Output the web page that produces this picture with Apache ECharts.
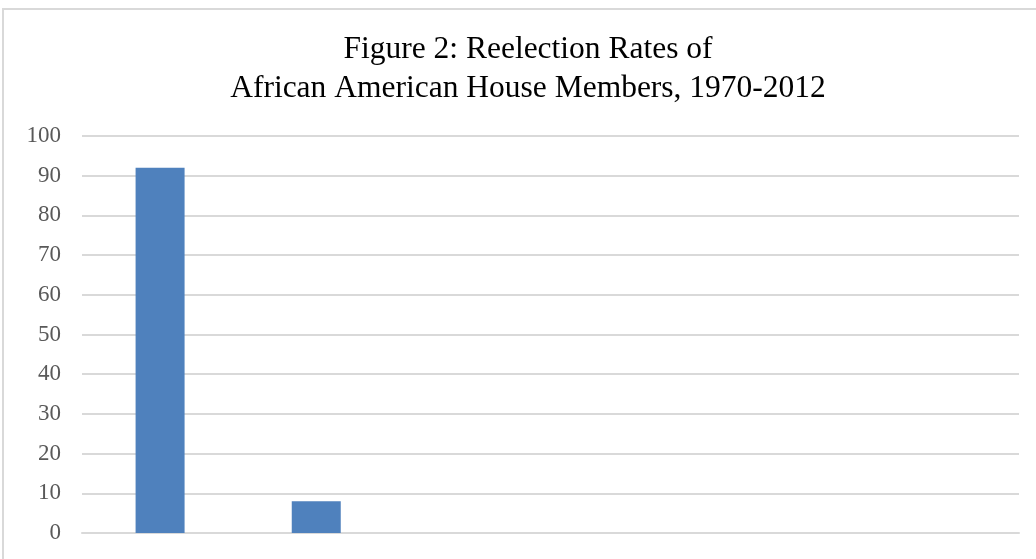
<!DOCTYPE html>
<html>
<head>
<meta charset="utf-8">
<style>
  html, body { margin: 0; padding: 0; background: #fff; }
  #chart { width: 1036px; height: 559px; }
</style>
<script src="https://cdn.jsdelivr.net/npm/echarts@6/dist/echarts.min.js"></script>
</head>
<body>
<div id="chart"></div>
<script>
// category labels fall below the cropped edge of the original, so they stay hidden
const categories = ['c1', 'c2', 'c3', 'c4', 'c5', 'c6']
const rates = [92, 8, null, null, null, null]
const yTicks = { min: 0, max: 100, interval: 10 }

const chart = echarts.init(document.getElementById('chart'))

const option = {
  animation: false,
  graphic: [{
    type: 'rect',
    shape: { x: 3, y: 9, width: 1200, height: 700 },
    style: { fill: 'none', stroke: '#d9d9d9', lineWidth: 2 },
    silent: true
  }],
  title: {
    text: 'Figure 2: Reelection Rates of\nAfrican American House Members, 1970-2012',
    left: 523,
    textAlign: 'center',
    top: 25,
    textStyle: {
      fontFamily: 'Liberation Serif',
      fontWeight: 'normal',
      fontSize: 31.5,
      lineHeight: 39,
      color: '#000'
    }
  },
  grid: {
    left: 82,
    right: 17,
    top: 136,
    bottom: 26
  },
  xAxis: {
    type: 'category',
    data: categories,
    axisLine: { lineStyle: { color: '#d9d9d9', width: 2 } },
    axisTick: { show: false },
    axisLabel: { show: false }
  },
  yAxis: {
    type: 'value',
    min: yTicks.min,
    max: yTicks.max,
    interval: yTicks.interval,
    axisLine: { show: false },
    axisTick: { show: false },
    axisLabel: {
      color: '#595959',
      fontFamily: 'Liberation Serif',
      fontSize: 23,
      margin: 21
    },
    splitLine: {
      lineStyle: { color: '#d9d9d9', width: 2 }
    }
  },
  series: [{
    type: 'bar',
    data: rates,
    barWidth: 49,
    itemStyle: { color: '#4f81bd' }
  }]
}

chart.setOption(option)
</script>
</body>
</html>
